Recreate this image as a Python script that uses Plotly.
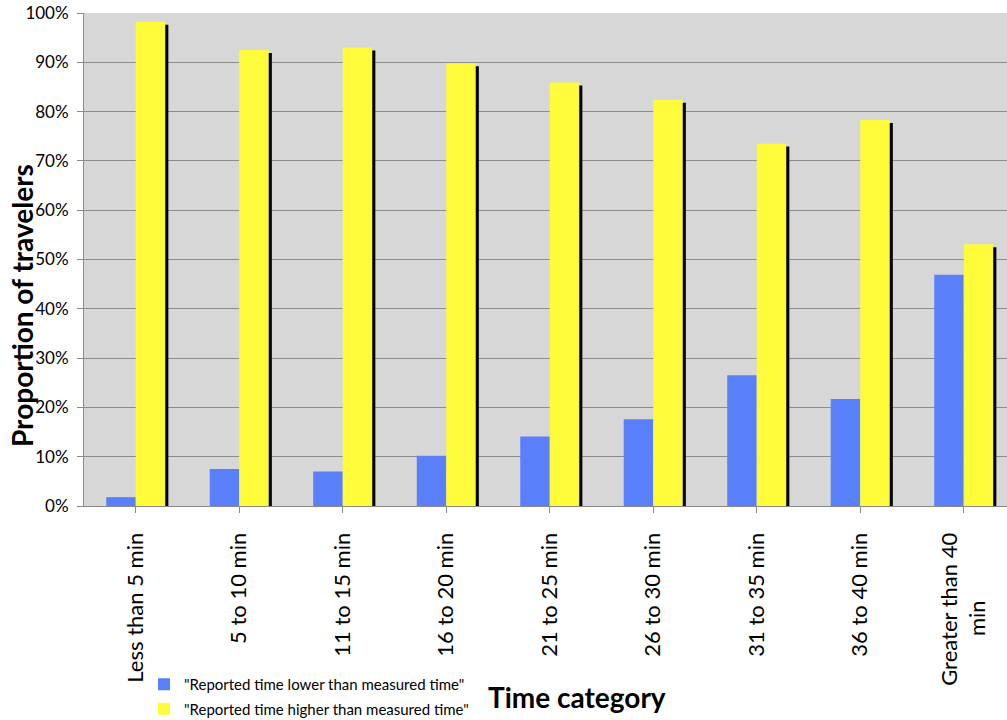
import plotly.graph_objects as go

# Travel-time categories and share of travelers (percent)
categories = [
    "Less than 5 min", "5 to 10 min", "11 to 15 min", "16 to 20 min",
    "21 to 25 min", "26 to 30 min", "31 to 35 min", "36 to 40 min",
    "Greater than 40<br>min" + "&nbsp;" * 12,
]
reported_lower = [1.8, 7.5, 7.0, 10.2, 14.1, 17.6, 26.5, 21.7, 46.9]
reported_higher = [98.2, 92.5, 93.0, 89.8, 85.9, 82.4, 73.5, 78.3, 53.1]
y_ticks = [0, 10, 20, 30, 40, 50, 60, 70, 80, 90, 100]
y_tick_labels = [f"{v}%" for v in y_ticks]

name_lower = '"Reported time lower than measured time"'
name_higher = '"Reported time higher than measured time"'

BLUE = "#5a7ffb"
YELLOW = "#fdfb3a"
FONT = "Lato"

W, H = 1007, 720
ML, MR, MT, MB = 84, 0, 13, 214
plot_w = W - ML - MR
plot_h = H - MT - MB


def px_to_paper(x_px, y_px):
    return (x_px - ML) / plot_w, (H - MB - y_px) / plot_h


x_idx = list(range(len(categories)))
bar_w = 0.285
shadow_dx = 0.03
shadow_drop = 0.6

fig = go.Figure()

# drop shadow behind the yellow bars
fig.add_trace(go.Bar(
    x=x_idx, y=[v - shadow_drop for v in reported_higher],
    offset=shadow_dx, width=bar_w,
    marker=dict(color="black", line=dict(width=0)),
    showlegend=False, hoverinfo="skip",
))
fig.add_trace(go.Bar(
    x=x_idx, y=reported_lower, name=name_lower, legendgroup="lower",
    offset=-bar_w, width=bar_w,
    marker=dict(color=BLUE, line=dict(width=0)),
))
fig.add_trace(go.Bar(
    x=x_idx, y=reported_higher, name=name_higher, legendgroup="higher",
    offset=0, width=bar_w,
    marker=dict(color=YELLOW, line=dict(width=0)),
))

lx, ly = px_to_paper(144, 668)
tx, ty = px_to_paper(577, 697)
yx, yy = px_to_paper(22, 306)

fig.update_layout(
    width=W, height=H,
    margin=dict(l=ML, r=MR, t=MT, b=MB, pad=0, autoexpand=False),
    paper_bgcolor="white",
    plot_bgcolor="#d7d7d7",
    barmode="overlay",
    font=dict(family=FONT, color="black"),
    showlegend=True,
    legend=dict(
        x=lx, y=ly, xanchor="left", yanchor="top",
        font=dict(size=15, family=FONT, color="black"),
        bgcolor="rgba(0,0,0,0)", traceorder="grouped", tracegroupgap=2,
        itemwidth=30,
    ),
    xaxis=dict(
        range=[-0.5, 8.418], automargin=False,
        tickmode="array", tickvals=x_idx, ticktext=categories,
        tickangle=-90, tickfont=dict(size=22, family=FONT, color="black"),
        ticks="outside", ticklen=6, tickcolor="#8a8a8a", tickson="boundaries",
        ticklabelstandoff=11,
        showline=True, linecolor="#8a8a8a", linewidth=1,
        showgrid=False, zeroline=False, fixedrange=True,
    ),
    yaxis=dict(
        range=[0, 100], automargin=False,
        tickmode="array", tickvals=y_ticks, ticktext=y_tick_labels,
        tickfont=dict(size=17, family=FONT, color="black"),
        ticks="outside", ticklen=6, tickcolor="#8a8a8a",
        ticklabelstandoff=5,
        showline=True, linecolor="#8a8a8a", linewidth=1,
        showgrid=True, gridcolor="#8c8c8c", gridwidth=1,
        zeroline=False, fixedrange=True,
    ),
    annotations=[
        dict(text="<b>Time category</b>", xref="paper", yref="paper",
             x=tx, y=ty, xanchor="center", yanchor="middle", showarrow=False,
             font=dict(size=28, family=FONT, color="black")),
        dict(text="<b>Proportion of travelers</b>", xref="paper", yref="paper",
             x=yx, y=yy, xanchor="center", yanchor="middle", showarrow=False,
             textangle=-90, font=dict(size=28, family=FONT, color="black")),
    ],
)

fig.write_html("out.html")
